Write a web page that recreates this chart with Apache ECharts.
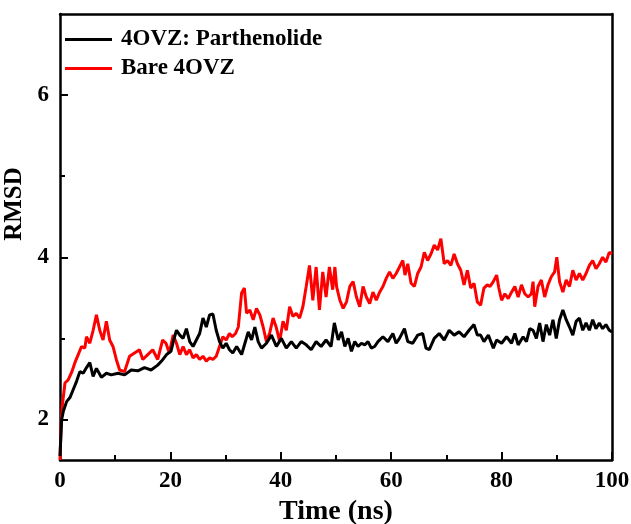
<!DOCTYPE html>
<html>
<head>
<meta charset="utf-8">
<script src="https://cdn.jsdelivr.net/npm/echarts@6/dist/echarts.min.js"></script>
<style>html,body{margin:0;padding:0;background:#fff}#c{width:631px;height:524px}</style>
</head>
<body>
<div id="c"></div>
<script>
const seriesNames = ['4OVZ: Parthenolide', 'Bare 4OVZ'];
const xTicks = [0, 20, 40, 60, 80, 100];
const yMajorTicks = [2, 4, 6];
const yMinorTicks = [3, 5];

const complexTime = [0,0.3,0.6,1.2,1.8,2.4,3.0,3.6,4.2,4.8,5.4,6.0,6.6,7.5,8.4,9.3,10.5,11.7,12.9,14.1,15.3,16.5,17.7,18.4,19.3,20.1,20.6,21.1,21.7,22.3,22.9,23.5,24.1,24.7,25.3,25.9,26.5,27.1,27.7,28.3,28.9,29.5,30.1,30.7,31.3,32.0,32.9,33.5,34.1,34.7,35.3,35.9,36.5,37.4,38.3,39.2,40.1,41.0,41.9,42.8,43.7,44.6,45.5,46.4,47.3,48.2,49.1,49.7,50.4,51.0,51.6,52.2,52.8,53.4,54.0,54.6,55.2,55.8,56.4,57.0,57.6,58.5,59.4,60.3,60.9,61.5,62.4,63.0,63.9,64.8,65.7,66.3,66.9,67.8,68.7,69.6,70.5,71.4,72.3,73.2,74.1,75.0,75.6,76.2,76.8,77.6,78.5,79.1,80.0,80.9,81.8,82.4,83.0,83.9,84.5,85.1,85.7,86.3,86.9,87.5,88.1,88.7,89.3,89.9,90.5,91.1,91.7,92.3,92.9,93.5,94.1,94.7,95.3,95.9,96.5,97.1,97.7,98.3,98.9,99.5,100];
const complexRmsd = [1.55,2.00,2.10,2.22,2.27,2.37,2.47,2.59,2.57,2.64,2.70,2.53,2.63,2.52,2.57,2.55,2.57,2.55,2.61,2.60,2.64,2.61,2.67,2.72,2.80,2.84,2.98,3.10,3.04,3.00,3.12,2.96,2.90,2.98,3.06,3.25,3.14,3.29,3.30,3.10,2.96,2.88,2.94,2.86,2.82,2.90,2.80,2.94,3.08,2.98,3.14,2.96,2.88,2.94,3.04,2.90,3.00,2.88,2.96,2.88,2.96,2.92,2.86,2.96,2.90,2.98,2.90,3.19,2.98,3.08,2.90,3.00,2.84,2.96,2.90,2.94,2.92,2.96,2.88,2.90,2.96,3.02,2.96,3.06,2.94,3.00,3.12,2.96,2.94,3.04,3.06,2.88,2.86,3.00,3.06,2.98,3.10,3.04,3.08,3.02,3.10,3.17,3.04,3.04,2.96,3.04,2.88,2.98,2.94,3.02,2.94,3.06,2.92,3.02,2.96,3.12,3.10,3.00,3.19,2.96,3.17,3.04,3.23,3.00,3.23,3.35,3.23,3.14,3.04,3.21,3.25,3.10,3.19,3.10,3.23,3.12,3.19,3.12,3.17,3.10,3.08];

const bareTime = [0,0.2,0.4,0.9,1.5,2.1,2.7,3.3,3.9,4.5,4.8,5.4,6.0,6.6,7.2,7.8,8.4,9.0,9.6,10.2,10.8,11.7,12.6,13.5,14.4,15.0,15.9,16.8,17.7,18.6,19.2,19.8,20.5,21.1,21.7,22.3,22.9,23.5,24.1,24.7,25.3,25.9,26.5,27.1,27.7,28.3,28.9,29.5,30.1,30.7,31.2,31.8,32.3,32.9,33.4,33.8,34.4,35.0,35.6,36.2,36.8,37.4,38.0,38.6,39.2,39.8,40.4,41.0,41.6,42.2,42.8,43.4,44.0,44.6,45.2,45.8,46.4,47.0,47.6,48.2,48.8,49.4,49.8,50.1,50.7,51.3,51.9,52.5,53.1,53.7,54.3,54.9,55.5,56.1,56.7,57.3,57.9,58.5,59.1,59.7,60.3,60.9,61.5,62.1,62.5,63.0,63.6,64.2,64.8,65.4,66.0,66.6,67.2,67.8,68.4,69.0,69.6,70.2,70.8,71.4,72.0,72.6,73.2,73.8,74.4,75.0,75.6,76.2,76.8,77.4,77.9,78.5,79.1,79.5,80.0,80.6,81.2,81.8,82.4,83.0,83.6,84.2,84.8,85.4,85.7,86.0,86.6,87.2,87.8,88.4,89.0,89.6,90.0,90.5,91.1,91.7,92.3,92.9,93.5,94.1,94.7,95.3,95.9,96.5,97.1,97.7,98.3,98.9,99.5,100];
const bareRmsd = [1.50,1.96,2.16,2.45,2.49,2.58,2.70,2.80,2.90,2.88,3.02,2.94,3.10,3.29,3.10,2.98,3.21,2.98,2.90,2.74,2.61,2.59,2.78,2.82,2.86,2.74,2.80,2.86,2.74,2.98,2.94,2.82,3.04,2.94,2.80,2.90,2.80,2.86,2.76,2.80,2.74,2.78,2.72,2.76,2.74,2.78,2.90,3.02,2.98,3.06,3.02,3.06,3.14,3.56,3.62,3.31,3.35,3.23,3.37,3.29,3.14,2.96,3.07,3.25,3.13,2.96,3.21,3.10,3.39,3.27,3.31,3.25,3.39,3.64,3.90,3.47,3.88,3.35,3.82,3.51,3.88,3.60,3.88,3.64,3.47,3.37,3.45,3.64,3.70,3.51,3.39,3.64,3.51,3.43,3.57,3.47,3.57,3.64,3.74,3.82,3.74,3.80,3.88,3.96,3.78,3.92,3.68,3.64,3.80,3.88,4.06,3.96,4.04,4.15,4.09,4.23,3.92,3.96,3.90,4.04,3.92,3.84,3.66,3.84,3.62,3.68,3.45,3.41,3.62,3.66,3.64,3.70,3.78,3.62,3.47,3.55,3.49,3.57,3.64,3.51,3.66,3.55,3.51,3.55,3.70,3.39,3.64,3.72,3.51,3.66,3.76,3.82,4.00,3.70,3.57,3.72,3.64,3.84,3.72,3.80,3.72,3.80,3.90,3.96,3.86,3.92,4.00,3.94,4.06,4.04];

const pair = (xs, ys) => xs.map((x, i) => [x, ys[i]]);
const font = 'Liberation Serif, Times New Roman, serif';
const axisLineStyle = { color: '#000', width: 2.5 };

const chart = echarts.init(document.getElementById('c'), null, { renderer: 'canvas' });
chart.setOption({
  animation: false,
  backgroundColor: '#fff',
  grid: { left: 60, right: 19, top: 14, bottom: 64, containLabel: false, outerBoundsMode: 'none' },
  legend: {
    data: seriesNames,
    orient: 'vertical',
    left: 60, top: 23,
    itemWidth: 47, itemHeight: 3, itemGap: 6,
    icon: 'rect',
    textStyle: { fontFamily: font, fontWeight: 'bold', fontSize: 23, color: '#000', padding: [0, 0, 0, 4] }
  },
  xAxis: [{
    type: 'value', min: 0, max: 100, interval: 20,
    position: 'bottom',
    axisLine: { show: true, onZero: false, lineStyle: axisLineStyle },
    axisTick: { show: true, inside: true, length: 8, lineStyle: { color: '#000', width: 2 } },
    minorTick: { show: true, splitNumber: 2, length: 5, lineStyle: { color: '#000', width: 2 } },
    splitLine: { show: false },
    axisLabel: { margin: 10, fontFamily: font, fontWeight: 'bold', fontSize: 23, color: '#000',
      customValues: xTicks },
    name: 'Time (ns)', nameLocation: 'middle', nameGap: 37,
    nameTextStyle: { fontFamily: font, fontWeight: 'bold', fontSize: 28, color: '#000' }
  }, {
    type: 'value', min: 0, max: 100, position: 'top',
    axisLine: { show: true, onZero: false, lineStyle: axisLineStyle },
    axisTick: { show: false }, axisLabel: { show: false }, splitLine: { show: false }
  }],
  yAxis: [{
    type: 'value', min: 1.5, max: 7, position: 'left',
    axisLine: { show: true, onZero: false, lineStyle: axisLineStyle },
    axisTick: { show: true, inside: true, length: 8, customValues: yMajorTicks, lineStyle: { color: '#000', width: 2 } },
    splitLine: { show: false },
    axisLabel: { margin: 11, fontFamily: font, fontWeight: 'bold', fontSize: 23, color: '#000', customValues: yMajorTicks },
    name: 'RMSD', nameLocation: 'middle', nameGap: 28, nameRotate: 90,
    nameTextStyle: { fontFamily: font, fontWeight: 'bold', fontSize: 25, color: '#000', padding: [0, 0, 0, 66] }
  }, {
    type: 'value', min: 1.5, max: 7, position: 'right',
    axisLine: { show: true, onZero: false, lineStyle: axisLineStyle },
    axisTick: { show: false }, axisLabel: { show: false }, splitLine: { show: false }
  }, {
    type: 'value', min: 1.5, max: 7, position: 'left', offset: 0,
    axisLine: { show: false },
    axisTick: { show: true, inside: true, length: 5, customValues: yMinorTicks, lineStyle: { color: '#000', width: 2 } },
    axisLabel: { show: false }, splitLine: { show: false }
  }],
  series: [{
    name: seriesNames[1], type: 'line', data: pair(bareTime, bareRmsd),
    showSymbol: false, symbol: 'none', color: '#ff0000',
    lineStyle: { color: '#ff0000', width: 3 }, z: 2
  }, {
    name: seriesNames[0], type: 'line', data: pair(complexTime, complexRmsd),
    showSymbol: false, symbol: 'none', color: '#000',
    lineStyle: { color: '#000', width: 3 }, z: 3
  }]
});
</script>
</body>
</html>
